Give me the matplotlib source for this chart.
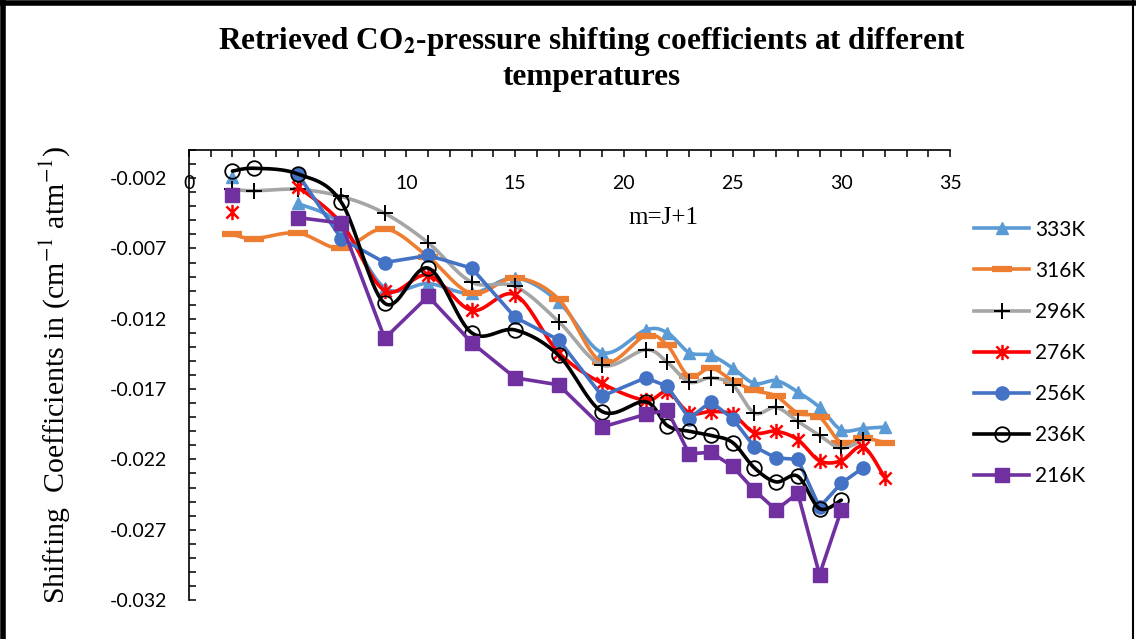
import numpy as np
import matplotlib
matplotlib.use("Agg")
import matplotlib.pyplot as plt
from matplotlib.path import Path
from matplotlib.lines import Line2D
from matplotlib.ticker import MultipleLocator, FixedLocator, FormatStrFormatter

plt.rcParams["mathtext.fontset"] = "stix"

nan = np.nan

# ---- data: shifting coefficients (cm^-1 atm^-1) versus m = J+1 (nan = no value, line gap) ----
m_333 = [2, 3, 5, 7, 9, 11, 13, 15, 17, 19, 21, 22, 23, 24, 25, 26, 27, 28, 29, 30, 31, 32]
s_333 = [-0.0019, nan, -0.0038, -0.0053, -0.0098, -0.0095, -0.0102, -0.0091, -0.0108, -0.0144,
         -0.0128, -0.0130, -0.0144, -0.0146, -0.0155, -0.0166, -0.0164, -0.0172, -0.0183,
         -0.0199, -0.0198, -0.0197]

m_316 = [2, 3, 5, 7, 9, 11, 13, 15, 17, 19, 21, 22, 23, 24, 25, 26, 27, 28, 29, 30, 31, 32]
s_316 = [-0.0060, -0.0063, -0.0059, -0.0070, -0.0056, -0.0076, -0.0102, -0.0091, -0.0106,
         -0.0151, -0.0132, -0.0139, -0.0161, -0.0155, -0.0164, -0.0171, -0.0175, -0.0187,
         -0.0190, -0.0208, -0.0205, -0.0208]

m_296 = [2, 3, 5, 7, 9, 11, 13, 15, 17, 19, 21, 22, 23, 24, 25, 26, 27, 28, 29, 30, 31]
s_296 = [-0.0028, -0.0029, -0.0028, -0.0033, -0.0045, -0.0066, -0.0094, -0.0097, -0.0122,
         -0.0153, -0.0142, -0.0151, -0.0165, -0.0162, -0.0167, -0.0187, -0.0183, -0.0193,
         -0.0203, -0.0212, -0.0206]

m_276 = [2, 3, 5, 7, 9, 11, 13, 15, 17, 19, 21, 22, 23, 24, 25, 26, 27, 28, 29, 30, 31, 32]
s_276 = [-0.0044, nan, -0.0026, -0.0052, -0.0100, -0.0089, -0.0114, -0.0103, -0.0144, -0.0166,
         -0.0178, -0.0172, -0.0187, -0.0186, -0.0188, -0.0201, -0.0200, -0.0206, -0.0221,
         -0.0221, -0.0211, -0.0233]

m_256 = [2, 3, 5, 7, 9, 11, 13, 15, 17, 19, 21, 22, 23, 24, 25, 26, 27, 28, 29, 30, 31]
s_256 = [-0.0032, nan, -0.0017, -0.0063, -0.0080, -0.0075, -0.0084, -0.0119, -0.0135, -0.0175,
         -0.0162, -0.0168, -0.0191, -0.0179, -0.0191, -0.0211, -0.0219, -0.0220, -0.0254,
         -0.0237, -0.0226]

m_236 = [2, 3, 5, 7, 9, 11, 13, 15, 17, 19, 21, 22, 23, 24, 25, 26, 27, 28, 29, 30]
s_236 = [-0.0015, -0.0013, -0.0017, -0.0037, -0.0109, -0.0084, -0.0130, -0.0128, -0.0146,
         -0.0186, -0.0179, -0.0196, -0.0200, -0.0203, -0.0208, -0.0226, -0.0236, -0.0232,
         -0.0255, -0.0249]

m_216 = [2, 3, 5, 7, 9, 11, 13, 15, 17, 19, 21, 22, 23, 24, 25, 26, 27, 28, 29, 30]
s_216 = [-0.0032, nan, -0.0048, -0.0052, -0.0134, -0.0104, -0.0137, -0.0162, -0.0167, -0.0197,
         -0.0188, -0.0185, -0.0216, -0.0215, -0.0225, -0.0242, -0.0256, -0.0244, -0.0302,
         -0.0256]

labels = ["333K", "316K", "296K", "276K", "256K", "236K", "216K"]
x_ticks = [0, 5, 10, 15, 20, 25, 30, 35]
y_ticks = [-0.032, -0.027, -0.022, -0.017, -0.012, -0.007, -0.002]


def smooth(xs, ys, n=24):
    """Cardinal (Catmull-Rom) Bezier smoothing through the points."""
    p = np.column_stack([xs, ys]).astype(float)
    if len(p) < 3:
        return p[:, 0], p[:, 1]
    ext = np.vstack([p[0], p, p[-1]])
    out = []
    t = np.linspace(0, 1, n)[:, None]
    for i in range(1, len(ext) - 2):
        p0, p1, p2, p3 = ext[i - 1], ext[i], ext[i + 1], ext[i + 2]
        c1 = p1 + (p2 - p0) / 6.0
        c2 = p2 - (p3 - p1) / 6.0
        seg = ((1 - t) ** 3) * p1 + 3 * ((1 - t) ** 2) * t * c1 + 3 * (1 - t) * t ** 2 * c2 + t ** 3 * p2
        out.append(seg if i == 1 else seg[1:])
    out = np.vstack(out)
    return out[:, 0], out[:, 1]


def runs(xs, ys):
    """Split a series into the unbroken runs between missing values."""
    xs = np.asarray(xs, float)
    ys = np.asarray(ys, float)
    ok = ~np.isnan(ys)
    pieces, cur = [], []
    for x, y, good in zip(xs, ys, ok):
        if good:
            cur.append((x, y))
        elif cur:
            pieces.append(np.array(cur))
            cur = []
    if cur:
        pieces.append(np.array(cur))
    return pieces


# asterisk marker: an X with a vertical stroke
star_path = Path(
    [(-1, -1), (1, 1), (-1, 1), (1, -1), (0, -1.25), (0, 1.25)],
    [Path.MOVETO, Path.LINETO, Path.MOVETO, Path.LINETO, Path.MOVETO, Path.LINETO],
)

series = [
    dict(m=m_333, s=s_333, color="#5B9BD5", smooth=True,
         mk=dict(marker="^", markersize=9, markerfacecolor="#5B9BD5", markeredgecolor="#5B9BD5")),
    dict(m=m_316, s=s_316, color="#ED7D31", smooth=True,
         mk=dict(marker="_", markersize=15, markeredgewidth=4.5, markeredgecolor="#ED7D31")),
    dict(m=m_296, s=s_296, color="#A5A5A5", smooth=True,
         mk=dict(marker="+", markersize=12, markeredgewidth=1.4, markeredgecolor="black")),
    dict(m=m_276, s=s_276, color="#FF0000", smooth=True,
         mk=dict(marker=star_path, markersize=11, markeredgewidth=1.8, markeredgecolor="#FF0000")),
    dict(m=m_256, s=s_256, color="#4472C4", smooth=False,
         mk=dict(marker="o", markersize=9.5, markerfacecolor="#4472C4", markeredgecolor="#4472C4")),
    dict(m=m_236, s=s_236, color="black", smooth=True,
         mk=dict(marker="o", markersize=10.5, markerfacecolor="none", markeredgecolor="black",
                 markeredgewidth=1.3)),
    dict(m=m_216, s=s_216, color="#7030A0", smooth=False,
         mk=dict(marker="s", markersize=9.5, markerfacecolor="#7030A0", markeredgecolor="#7030A0")),
]

W, H = 1136, 639
fig = plt.figure(figsize=(W / 100, H / 100), dpi=100)
ax = fig.add_axes([189 / W, 1 - 600 / H, (950 - 189) / W, (600 - 150) / H])

handles = []
for i, sr in enumerate(series):
    for piece in runs(sr["m"], sr["s"]):
        if len(piece) < 2:
            continue
        if sr["smooth"]:
            xs, ys = smooth(piece[:, 0], piece[:, 1])
        else:
            xs, ys = piece[:, 0], piece[:, 1]
        ax.plot(xs, ys, color=sr["color"], lw=2.6, zorder=2 + i * 2, solid_capstyle="round")
    ax.plot(sr["m"], sr["s"], linestyle="none", zorder=3 + i * 2, **sr["mk"])
    handles.append(Line2D([0], [0], color=sr["color"], lw=2.6, **sr["mk"]))

ax.set_xlim(0, 35)
ax.set_ylim(-0.032, 0)

for side in ("right", "bottom"):
    ax.spines[side].set_visible(False)
for side in ("left", "top"):
    ax.spines[side].set_linewidth(1.2)

ax.xaxis.set_major_locator(FixedLocator(x_ticks))
ax.xaxis.set_minor_locator(MultipleLocator(1))
ax.yaxis.set_major_locator(FixedLocator(y_ticks))
ax.yaxis.set_minor_locator(MultipleLocator(0.001))
ax.yaxis.set_major_formatter(FormatStrFormatter("%.3f"))

ax.tick_params(axis="x", which="both", top=True, bottom=False, labeltop=True, labelbottom=False,
               direction="in", length=5, width=1.1, pad=-30)
ax.tick_params(axis="y", which="both", left=True, right=False, direction="in",
               length=5, width=1.1, pad=16)
for lab in ax.get_xticklabels() + ax.get_yticklabels():
    lab.set_fontfamily("Lato")
    lab.set_fontsize(14)

fig.text(592 / W, 1 - 42 / H,
         r"Retrieved CO$_\mathbf{2}$-pressure shifting coefficients at different",
         ha="center", va="center", fontsize=22.5, fontweight="bold", family="Liberation Serif")
fig.text(592 / W, 1 - 78 / H, "temperatures",
         ha="center", va="center", fontsize=22.5, fontweight="bold", family="Liberation Serif")

fig.text(55 / W, 1 - 375 / H, r"Shifting  Coefficients in (cm$^{-1}$ atm$^{-1}$)",
         rotation=90, ha="center", va="center", fontsize=21.5, family="Liberation Serif")

fig.text(663 / W, 1 - 218 / H, "m=J+1", ha="center", va="center", fontsize=18,
         family="Liberation Serif")

fig.legend(handles, labels, loc="center left", bbox_to_anchor=(974 / W, 1 - 353 / H),
           frameon=False, prop=dict(family="Lato", size=15), handlelength=2.65,
           handletextpad=0.3, labelspacing=1.015, borderpad=0, borderaxespad=0)

# outer frame
fig.add_artist(Line2D([2.5 / W, 2.5 / W], [0, 1], color="black", lw=4, transform=fig.transFigure))
fig.add_artist(Line2D([0, 1], [1 - 2.5 / H, 1 - 2.5 / H], color="black", lw=4, transform=fig.transFigure))
fig.add_artist(Line2D([1133 / W, 1133 / W], [0, 1], color="black", lw=1.5, transform=fig.transFigure))

fig.savefig("out.png", dpi=100)
